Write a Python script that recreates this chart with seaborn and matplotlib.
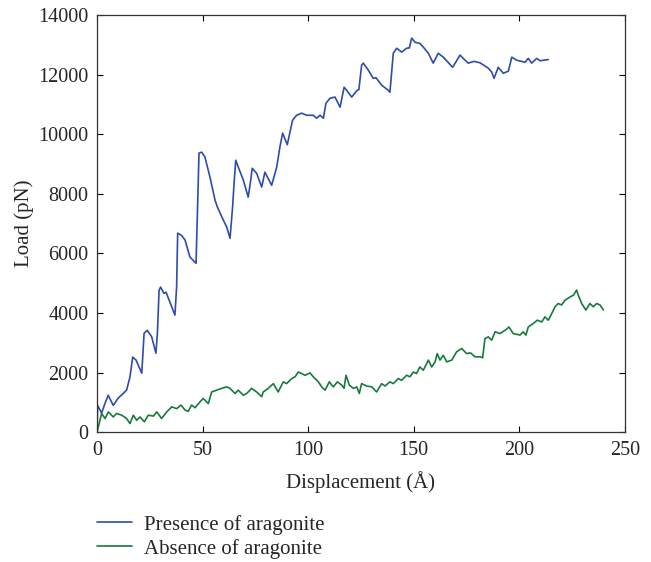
import numpy as np
import pandas as pd
import matplotlib
matplotlib.use("Agg")
import matplotlib.pyplot as plt
import seaborn as sns
from matplotlib.lines import Line2D

# values (displacement in A, load in pN)
presence_x = [0, 0.3, 2.2, 3.8, 5.3, 7.7, 10, 12.4, 14, 15.6, 16.9, 18.5, 21.2, 22.3, 23.8,
              25.9, 27.9, 28.6, 29.4, 30.1, 31.7, 32.7, 36.9, 37.7, 38.2, 40, 41.7, 44,
              46.9, 47.5, 48.3, 49.6, 51.1, 53.5, 55.9, 57, 59.8, 61.4, 63, 64.2, 64.9,
              65.7, 66.9, 69.3, 71.6, 72.8, 73.5, 75.6, 78, 79.5, 82.7, 85.1, 86.6, 87.9,
              90.1, 91.4, 92.6, 94.5, 96.9, 99.3, 102.4, 104, 105.6, 107.2, 108.4, 110.3,
              112.7, 115.1, 117, 118.2, 120.6, 123.2, 124, 125.3, 126.1, 128.5, 130.8,
              132.1, 134.8, 137.9, 138.7, 140.3, 141.9, 144.3, 146.6, 147.9, 149, 150.6,
              152.9, 154.5, 156.9, 159.2, 161.6, 164, 168.4, 171.9, 173.4, 175.8, 178.5,
              181.4, 185.3, 186.9, 188, 190, 192.4, 194.8, 196.4, 198.7, 202.7, 204.2,
              205.8, 208.2, 209.8, 213.7]
presence_y = [0, 900, 640, 970, 1240, 900, 1140, 1300, 1410, 1850, 2520, 2420, 1980, 3320,
              3420, 3200, 2650, 3320, 4770, 4870, 4660, 4700, 3930, 4870, 6680, 6610, 6450,
              5880, 5670, 7220, 9370, 9400, 9240, 8560, 7790, 7560, 7120, 6890, 6510, 7560,
              8350, 9130, 8900, 8460, 7890, 8460, 8860, 8690, 8230, 8730, 8290, 8900, 9570,
              10040, 9650, 10080, 10470, 10640, 10710, 10640, 10640, 10540, 10640, 10540,
              11040, 11210, 11250, 10910, 11580, 11480, 11250, 11480, 11500, 12320, 12390,
              12150, 11880, 11900, 11650, 11480, 11410, 12720, 12890, 12760, 12890, 12900,
              13230, 13090, 13050, 12930, 12720, 12390, 12720, 12590, 12250, 12660, 12550,
              12390, 12450, 12400, 12220, 12090, 11880, 12250, 12050, 12120, 12590, 12490,
              12420, 12550, 12390, 12550, 12470, 12510]

absence_x = [0, 2.2, 3.8, 5.4, 7.7, 9.3, 11.7, 14, 15.6, 17.2, 18.8, 20.4, 22.4, 24.3, 26.7,
             28.3, 30.6, 33, 35.4, 37.7, 39.8, 41.7, 43.2, 44.8, 46.4, 48.8, 50.3, 52.7,
             54.3, 56.6, 59, 61.4, 63, 65.3, 66.9, 69.3, 70.9, 73.2, 75.6, 78, 78.7, 81.1,
             83.5, 85.8, 88.2, 89.8, 92.2, 93.8, 95.3, 96.9, 98.5, 100.9, 102.4, 104.8,
             106.4, 108, 110, 111.9, 113.8, 115.9, 117, 117.9, 119.5, 121.4, 123, 124.2,
             125.3, 127.7, 130.1, 132.4, 134.8, 136.4, 138.7, 140.3, 142.7, 144.2, 146.6,
             148.2, 149.8, 151.3, 152.9, 154.5, 156.1, 156.9, 158.5, 160.1, 161.1, 162.4,
             164, 165.6, 168, 170.3, 172.7, 175, 176.9, 179, 181.4, 182.6, 183.7, 185.3,
             186.9, 188.5, 190.8, 193.2, 195.1, 197.1, 200.3, 201.8, 203.1, 204.2, 206.6,
             208.5, 210.6, 212.1, 213.7, 215.3, 216.9, 218.4, 220, 221.6, 224, 225.6,
             227.1, 227.9, 229.5, 231.5, 233.4, 235, 236.6, 238.2, 239.8]
absence_y = [0, 630, 460, 680, 510, 630, 570, 460, 290, 570, 400, 510, 350, 570, 540, 680,
             460, 680, 850, 790, 910, 740, 700, 910, 820, 1020, 1130, 960, 1350, 1410, 1470,
             1520, 1470, 1300, 1410, 1240, 1300, 1470, 1350, 1190, 1350, 1470, 1630, 1350,
             1690, 1630, 1800, 1860, 2020, 1970, 1910, 1990, 1860, 1690, 1520, 1410, 1690,
             1520, 1690, 1580, 1470, 1910, 1580, 1470, 1520, 1300, 1630, 1550, 1520, 1350,
             1630, 1550, 1690, 1630, 1800, 1740, 1910, 1860, 2020, 1970, 2190, 2080, 2300,
             2420, 2190, 2360, 2640, 2420, 2580, 2360, 2420, 2700, 2810, 2640, 2660, 2530,
             2530, 2500, 3140, 3200, 3090, 3370, 3310, 3420, 3530, 3310, 3260, 3370, 3260,
             3530, 3650, 3760, 3700, 3870, 3760, 3980, 4210, 4320, 4270, 4430, 4540, 4600,
             4770, 4600, 4320, 4100, 4320, 4210, 4320, 4270, 4100]

x_ticks = [0, 50, 100, 150, 200, 250]
y_ticks = [0, 2000, 4000, 6000, 8000, 10000, 12000, 14000]

blue = "#2f4cab"
green = "#187a3b"

df = pd.concat([
    pd.DataFrame({"x": presence_x, "y": presence_y, "series": "Presence of aragonite"}),
    pd.DataFrame({"x": absence_x, "y": absence_y, "series": "Absence of aragonite"}),
])

sns.set_style("ticks")
plt.rcParams["font.family"] = ["Liberation Serif", "DejaVu Serif"]
plt.rcParams["xtick.direction"] = "in"
plt.rcParams["ytick.direction"] = "in"

fig = plt.figure(figsize=(6.51, 5.62), dpi=100)
ax = fig.add_axes([0.149, 0.231, 0.811, 0.742])

sns.lineplot(data=df, x="x", y="y", hue="series", sort=False, ax=ax,
             palette={"Presence of aragonite": blue, "Absence of aragonite": green},
             linewidth=1.2, legend=False)

ax.set_xlim(0, 250)
ax.set_ylim(0, 14000)
ax.set_xticks(x_ticks)
ax.set_yticks(y_ticks)
ax.tick_params(top=True, right=True, length=4, width=0.8, labelsize=14.5,
               color="black", pad=6)
for s in ax.spines.values():
    s.set_linewidth(0.9)
    s.set_color("#333333")
ax.set_xlabel("Displacement (Å)", fontsize=15, labelpad=8)
ax.set_ylabel("Load (pN)", fontsize=15, labelpad=3)

# legend sits under the axes, left-aligned with the y axis
handles = [Line2D([], [], color=blue, lw=1.2), Line2D([], [], color=green, lw=1.2)]
fig.legend(handles, ["Presence of aragonite", "Absence of aragonite"], loc="upper left",
           bbox_to_anchor=(0.149, 0.084), frameon=False, fontsize=15, handlelength=1.7,
           handletextpad=0.55, labelspacing=0.2, borderpad=0, borderaxespad=0)

fig.savefig("out.png", dpi=100)
